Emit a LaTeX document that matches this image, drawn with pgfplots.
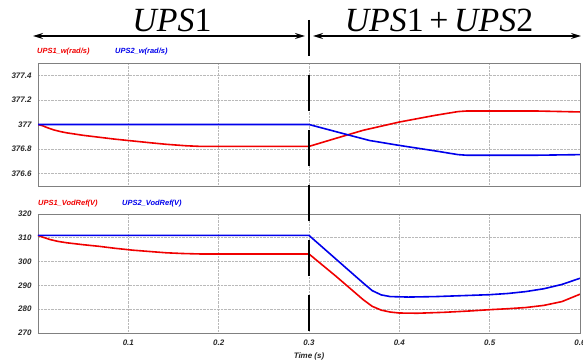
\documentclass[border=0pt]{standalone}
\usepackage{fontspec}
\setmainfont{Liberation Sans}
\newfontfamily\timesfont{Liberation Serif}
\usepackage{pgfplots}
\pgfplotsset{compat=1.18}
\usetikzlibrary{arrows.meta}

\definecolor{framegray}{RGB}{128,128,128}
\definecolor{gridgray}{RGB}{185,185,185}
\definecolor{ticktext}{RGB}{40,40,40}
\definecolor{myred}{RGB}{240,0,0}
\definecolor{myblue}{RGB}{0,0,235}

\pgfplotsset{common/.style={
  scale only axis, width=542bp, xmin=0, xmax=0.6,
  axis line style={framegray, line width=0.9bp},
  major tick length=0pt,
  grid=major, grid style={gridgray, densely dotted, line width=0.6bp},
  xtick={0.1,0.2,0.3,0.4,0.5,0.6},
  scaled ticks=false,
  ticklabel style={font=\fontsize{8}{9}\selectfont\bfseries\itshape, text=ticktext},
  /pgf/number format/assume math mode=true,
  yticklabel style={xshift=-3bp},
  every axis plot/.append style={line width=1.6bp, no marks},
}}

\begin{document}
\begin{tikzpicture}
\useasboundingbox (0,0) rectangle (583bp,361bp);

% top panel
\begin{axis}[common, at={(38bp,175bp)}, anchor=south west, height=123bp,
  ymin=376.5, ymax=377.5, ytick={376.6,376.8,377,377.2,377.4}, xticklabels={}]
\addplot[myred] coordinates {(0,377.0) (0.005,376.99) (0.01,376.975) (0.017,376.957) (0.025,376.942) (0.032,376.932) (0.05,376.912) (0.068,376.896) (0.085,376.881) (0.105,376.866) (0.125,376.851) (0.142,376.839) (0.164,376.827) (0.18,376.822) (0.3,376.822)
 (0.33,376.888) (0.36,376.953) (0.4,377.02) (0.44,377.075) (0.465,377.105) (0.475,377.11) (0.55,377.11) (0.6,377.102)};
\addplot[myblue] coordinates {(0,377) (0.3,377) (0.34,376.922) (0.367,376.87) (0.4,376.83) (0.44,376.785) (0.465,376.755) (0.475,376.75) (0.55,376.75) (0.6,376.755)};
\end{axis}

% bottom panel
\begin{axis}[common, at={(38bp,28bp)}, anchor=south west, height=119bp,
  ymin=270, ymax=320, ytick={270,280,290,300,310,320},
  xticklabel style={yshift=-3bp},
  xlabel={Time (s)}, xlabel style={font=\fontsize{8}{9}\selectfont\bfseries\itshape, text=ticktext, yshift=-1bp}]
\addplot[myred] coordinates {(0,311) (0.005,310.3) (0.013,309.3) (0.022,308.5) (0.032,307.9) (0.05,307.1) (0.068,306.4) (0.085,305.6) (0.105,304.8) (0.125,304.2) (0.142,303.7) (0.16,303.4) (0.18,303.2) (0.3,303.2)
 (0.33,293.8) (0.36,284) (0.37,281.2) (0.38,279.6) (0.39,278.8) (0.4,278.4) (0.42,278.3) (0.45,278.7) (0.48,279.3) (0.5,279.8) (0.52,280.2) (0.54,280.7) (0.56,281.6) (0.58,283.2) (0.6,286.3)};
\addplot[myblue] coordinates {(0,311) (0.3,311) (0.33,301) (0.36,291) (0.37,287.8) (0.38,286) (0.39,285.3) (0.41,285.1) (0.44,285.3) (0.47,285.7) (0.5,286.1) (0.52,286.6) (0.54,287.4) (0.56,288.6) (0.58,290.4) (0.6,293)};
\end{axis}

% legends
\begin{scope}[every node/.style={font=\fontsize{7.5}{9}\selectfont\bfseries\itshape, anchor=west, inner sep=0pt}]
\node[text=myred] at (37bp,309bp) {UPS1\_w(rad/s)};
\node[text=myblue] at (115bp,309bp) {UPS2\_w(rad/s)};
\node[text=myred] at (38bp,157bp) {UPS1\_VodRef(V)};
\node[text=myblue] at (122bp,157bp) {UPS2\_VodRef(V)};
\end{scope}

% annotations
\draw[line width=1.4bp, {Stealth[length=10bp,width=6bp]}-{Stealth[length=10bp,width=6bp]}] (33bp,325bp) -- (305bp,325bp);
\draw[line width=1.4bp, {Stealth[length=10bp,width=6bp]}-{Stealth[length=10bp,width=6bp]}] (313bp,325bp) -- (581bp,325bp);
\draw[line width=2.6bp, dash pattern=on 36bp off 19bp] (309bp,341bp) -- (309bp,28bp);
\node[font=\timesfont\fontsize{34}{34}\selectfont, anchor=base, inner sep=0pt] at (172bp,329bp) {{\itshape UPS}1};
\node[font=\timesfont\fontsize{34}{34}\selectfont, anchor=base, inner sep=0pt] at (439bp,329bp) {{\itshape UPS}1\,+\,{\itshape UPS}2};
\end{tikzpicture}
\end{document}
